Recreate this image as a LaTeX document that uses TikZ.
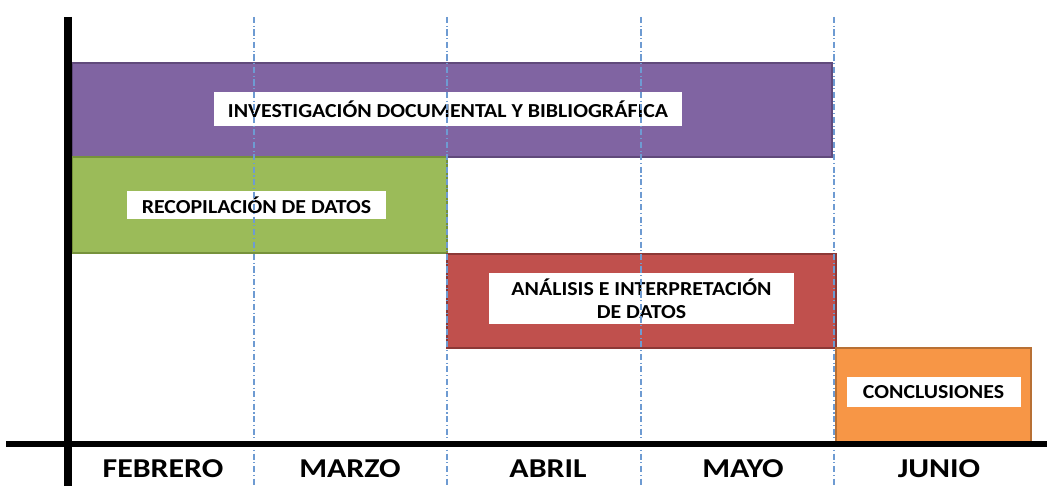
\documentclass[tikz,border=0pt]{standalone}
\usepackage{fontspec}
\setmainfont{Carlito}
\newfontfamily\widefont[FakeStretch=1.1]{Carlito}
\newfontfamily\monthfont[FakeStretch=1.17]{Carlito}
\usepackage{tikz}
\usetikzlibrary{positioning}
\definecolor{invpurple}{RGB}{128, 100, 162}
\definecolor{invborder}{RGB}{96, 74, 123}
\definecolor{recgreen}{RGB}{155, 187, 89}
\definecolor{recborder}{RGB}{118, 146, 60}
\definecolor{anared}{RGB}{192, 80, 77}
\definecolor{anaborder}{RGB}{140, 56, 54}
\definecolor{conorange}{RGB}{247, 150, 70}
\definecolor{conborder}{RGB}{184, 112, 52}
\definecolor{gridblue}{RGB}{110, 155, 210}
\definecolor{textdark}{RGB}{0, 0, 0}

\begin{document}
\begin{tikzpicture}[
    x=0.02cm, y=-0.02cm,
    bar/.style={rectangle, inner sep=0pt, line width=1.2pt},
    tag/.style={rectangle, fill=white, inner sep=0pt, align=center, font=\widefont\fontsize{11.3}{13}\selectfont\bfseries, text=textdark},
    month/.style={inner sep=0pt, font=\monthfont\fontsize{15.5}{18}\selectfont\bfseries, text=textdark},
    grid/.style={color=gridblue, line width=0.7pt, dash pattern=on 3.5pt off 1.5pt on 0.6pt off 1.5pt},
    axis/.style={color=textdark},
]
\useasboundingbox (0,0) rectangle (1047,486);

% Activity bars
\node[bar, draw=invborder, fill=invpurple, minimum width=15.2cm, minimum height=1.88cm] (inv) at (452,110) {};
\node[bar, draw=recborder, fill=recgreen, minimum width=7.5cm, minimum height=1.92cm] (rec) at (259.5,205) {};
\node[bar, draw=anaborder, fill=anared, minimum width=7.78cm, minimum height=1.88cm] (ana) at (641.5,301) {};
\node[bar, draw=conborder, fill=conorange, minimum width=3.9cm, minimum height=1.88cm] (con) at (933.5,395) {};

% Labels
\node[tag, minimum width=9.36cm, minimum height=0.68cm] (invtag) at ([xshift=-0.08cm, yshift=0.02cm]inv.center) {INVESTIGACIÓN DOCUMENTAL Y BIBLIOGRÁFICA};
\node[tag, minimum width=5.18cm, minimum height=0.58cm] (rectag) at ([xshift=-0.06cm]rec.center) {RECOPILACIÓN DE DATOS};
\node[tag, minimum width=6.1cm, minimum height=1.02cm] (anatag) at ([yshift=0.05cm]ana.center) {ANÁLISIS E INTERPRETACIÓN\\DE DATOS};
\node[tag, minimum width=3.48cm, minimum height=0.6cm] (contag) at ([yshift=0.06cm]con.center) {CONCLUSIONES};

% Month divisions
\coordinate (g1top) at (254,17);  \coordinate (g1bot) at (254,486);
\coordinate (g2top) at (447,17);  \coordinate (g2bot) at (447,486);
\coordinate (g3top) at (641,17);  \coordinate (g3bot) at (641,486);
\coordinate (g4top) at (834,17);  \coordinate (g4bot) at (834,486);
\draw[grid] (g1top) -- (g1bot);
\draw[grid] (g2top) -- (g2bot);
\draw[grid] (g3top) -- (g3bot);
\draw[grid] (g4top) -- (g4bot);

% Axes
\coordinate (ytop) at (68,17);
\coordinate (ybot) at (68,486);
\coordinate (xleft) at (6,444);
\coordinate (xright) at (1047,444);
\draw[axis, line width=4.5pt] (ytop) -- (ybot);
\draw[axis, line width=3pt] (xleft) -- (xright);

% Months
\node[month] (feb) at (163,469) {FEBRERO};
\node[month] (mar) at (350,469) {MARZO};
\node[month] (abr) at (548,469) {ABRIL};
\node[month] (may) at (743,469) {MAYO};
\node[month] (jun) at (939,469) {JUNIO};

\end{tikzpicture}
\end{document}
